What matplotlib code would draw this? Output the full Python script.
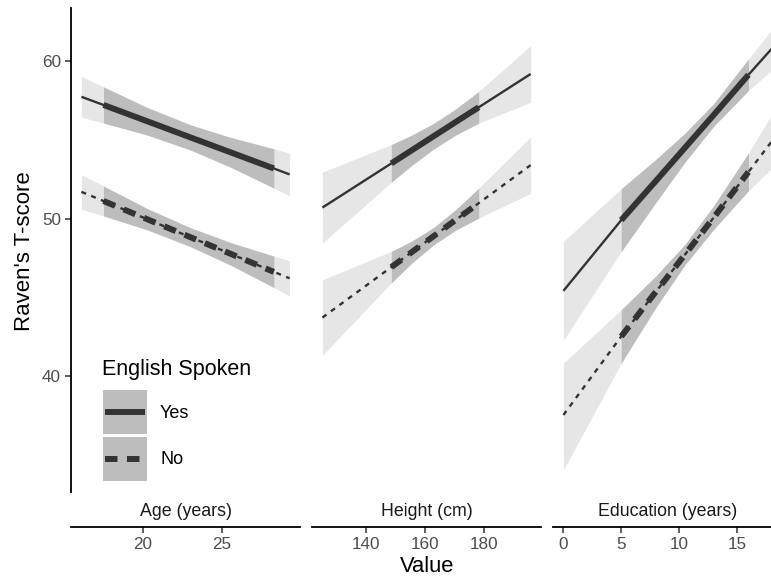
import numpy as np
import matplotlib.pyplot as plt
from matplotlib.patches import Rectangle

plt.rcParams['font.family'] = ['Liberation Sans', 'DejaVu Sans']
plt.rcParams['lines.scale_dashes'] = False

# predictor panels
panel_names = ['Age (years)', 'Height (cm)', 'Education (years)']
panel_ticks = [[20, 25], [140, 160, 180], [0, 5, 10, 15]]
groups = ['Yes', 'No']

# x positions: start, lower quantile, ..., upper quantile, end
age_x = [16.1, 17.5, 20.2, 23.0, 25.6, 28.3, 29.3]
age_yes_fit = [57.75, 57.23, 56.22, 55.17, 54.2, 53.19, 52.81]
age_yes_lo = [56.45, 56.08, 55.34, 54.37, 53.25, 51.94, 51.46]
age_yes_hi = [59.05, 58.38, 57.1, 55.97, 55.15, 54.44, 54.16]
age_no_fit = [51.7, 51.12, 49.99, 48.82, 47.74, 46.61, 46.2]
age_no_lo = [50.6, 50.17, 49.31, 48.22, 47.02, 45.61, 45.08]
age_no_hi = [52.8, 52.07, 50.67, 49.42, 48.46, 47.61, 47.32]

height_x = [125, 148.5, 155.5, 163, 170.5, 178.3, 196]
height_yes_fit = [50.7, 53.51, 54.35, 55.25, 56.15, 57.08, 59.2]
height_yes_lo = [48.45, 52.31, 53.39, 54.44, 55.32, 56.07, 57.4]
height_yes_hi = [52.95, 54.71, 55.31, 56.06, 56.98, 58.09, 61.0]
height_no_fit = [43.7, 46.91, 47.87, 48.89, 49.92, 50.98, 53.4]
height_no_lo = [41.3, 45.91, 47.17, 48.34, 49.27, 50.03, 51.6]
height_no_hi = [46.1, 47.91, 48.57, 49.44, 50.57, 51.93, 55.2]

edu_x = [0, 5, 8, 10.5, 13, 16, 18]
edu_yes_fit = [45.4, 49.9, 52.4, 54.5, 56.6, 59.15, 60.8]
edu_yes_lo = [42.25, 47.9, 51.03, 53.58, 55.88, 58.15, 59.43]
edu_yes_hi = [48.55, 51.9, 53.77, 55.42, 57.32, 60.15, 62.0]
edu_no_fit = [37.5, 42.5, 45.35, 47.7, 50.07, 52.97, 54.9]
edu_no_lo = [34.0, 40.8, 44.35, 47.05, 49.32, 51.77, 53.2]
edu_no_hi = [40.8, 44.2, 46.35, 48.35, 50.82, 54.17, 56.6]

panels = [
    (age_x, (age_yes_fit, age_yes_lo, age_yes_hi), (age_no_fit, age_no_lo, age_no_hi)),
    (height_x, (height_yes_fit, height_yes_lo, height_yes_hi), (height_no_fit, height_no_lo, height_no_hi)),
    (edu_x, (edu_yes_fit, edu_yes_lo, edu_yes_hi), (edu_no_fit, edu_no_lo, edu_no_hi)),
]

W, H = 771, 577
light = '#e6e6e6'
dark = '#bdbdbd'
ink = '#333333'
thin_no = (0, (3.6, 4.0))
thick_no = (0, (9.0, 6.8))
mid = slice(1, -1)  # the central (dark) part of each curve


def rect(l, t, w, h):
    return [l / W, 1 - (t + h) / H, w / W, h / H]


def expand(vals):
    lo, hi = min(vals), max(vals)
    r = hi - lo
    return lo - 0.05 * r, hi + 0.05 * r


all_y = []
for _, yes, no in panels:
    for s in (yes, no):
        all_y += s[1] + s[2]
ylim = expand(all_y)

fig = plt.figure(figsize=(W / 100, H / 100), dpi=100)

lefts = [71, 312, 553]
pw = 229
for i, (x, yes, no) in enumerate(panels):
    ax = fig.add_axes(rect(lefts[i], 8, pw, 484))
    xl = expand(x)
    x = np.array(x)
    yes = [np.array(v) for v in yes]
    no = [np.array(v) for v in no]
    for s in (yes, no):
        ax.fill_between(x, s[1], s[2], color=light, lw=0, zorder=1)
    for s in (yes, no):
        ax.fill_between(x[mid], s[1][mid], s[2][mid], color=dark, lw=0, zorder=2)
    ax.plot(x, yes[0], color=ink, lw=1.7, solid_capstyle='butt', zorder=3)
    ax.plot(x, no[0], color=ink, lw=1.7, ls=thin_no, zorder=3)
    ax.plot(x[mid], yes[0][mid], color=ink, lw=4.3, solid_capstyle='butt', zorder=4)
    ax.plot(x[mid], no[0][mid], color=ink, lw=4.3, ls=thick_no, zorder=4)
    ax.set_xlim(xl)
    ax.set_ylim(ylim)
    ax.set_xticks([])
    for sp in ['top', 'right', 'bottom']:
        ax.spines[sp].set_visible(False)
    if i == 0:
        ax.spines['left'].set_linewidth(1.3)
        ax.spines['left'].set_color('black')
        ax.set_yticks([40, 50, 60])
        ax.tick_params(axis='y', length=4.3, width=1.1, pad=3, labelsize=12.3,
                       labelcolor='#4d4d4d', color='#333333')
    else:
        ax.spines['left'].set_visible(False)
        ax.set_yticks([])
    ax.patch.set_alpha(0)

    # strip with axis line below
    sx = fig.add_axes(rect(lefts[i], 492, pw, 35))
    sx.set_xlim(xl)
    sx.set_yticks([])
    sx.set_xticks(panel_ticks[i])
    for sp in ['top', 'right', 'left']:
        sx.spines[sp].set_visible(False)
    sx.spines['bottom'].set_linewidth(1.3)
    sx.spines['bottom'].set_color('black')
    sx.tick_params(axis='x', length=4, width=1.1, pad=3, labelsize=12.3,
                   labelcolor='#4d4d4d', color='#333333')
    sx.patch.set_alpha(0)
    sx.text(0.5, 0.44, panel_names[i], transform=sx.transAxes, ha='center',
            va='center', fontsize=12.8, color='#1a1a1a')

fig.text(25 / W, 1 - 251 / H, "Raven's T-score", rotation=90, ha='center',
         va='center', fontsize=16)
fig.text(427 / W, 1 - 566 / H, 'Value', ha='center', va='center', fontsize=15.8)

# legend, drawn in pixel space
lg = fig.add_axes([0, 0, 1, 1])
lg.set_xlim(0, W)
lg.set_ylim(H, 0)
lg.axis('off')
lg.patch.set_alpha(0)
lg.text(102, 375, 'English Spoken', fontsize=15.5, ha='left', va='baseline', color='black')
key_styles = [dict(solid_capstyle='butt'), dict(ls=thick_no)]
for k, (name, style) in enumerate(zip(groups, key_styles)):
    top = 390 + k * 47
    lg.add_patch(Rectangle((103, top), 44, 44, facecolor=dark, edgecolor='none'))
    lg.plot([105, 145], [top + 22, top + 22], color=ink, lw=4.3, **style)
    lg.text(160, top + 23, name, fontsize=13, ha='left', va='center', color='black')

fig.savefig('out.png', dpi=100)
